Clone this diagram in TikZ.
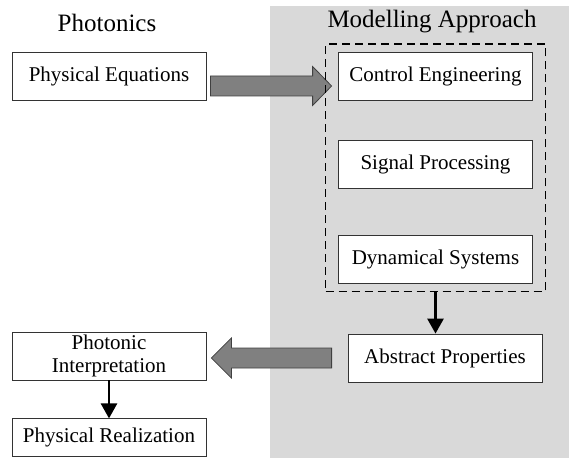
\documentclass[tikz,border=0pt]{standalone}
\usepackage{fontspec}
\setmainfont{Liberation Serif}
\usetikzlibrary{positioning,fit,calc,arrows.meta}

\begin{document}
\begin{tikzpicture}[x=1pt, y=1pt, node distance=40pt,
	box/.style = {draw=black!80, line width=0.8pt, fill=white, minimum width=194pt, minimum height=48pt, inner sep=0pt, font=\fontsize{21}{23}\selectfont, align=center},
	title/.style = {font=\fontsize{25}{28}\selectfont, anchor=base, inner sep=0pt},
	fatarr/.style = {draw=black!75, line width=0.8pt, fill=black!50},
	blkarr/.style = {-{Triangle[width=16pt,length=15pt]}, line width=2.7pt}]
			\useasboundingbox (0,0) rectangle (569,458);
			\fill[black!15] (270,0) rectangle (569,452);
			\node[title] (ph) at (107,426) {Photonics};
			\node[title] (ma) at (432,430) {Modelling Approach};
			\node[box] (pe) at (109,382) {Physical Equations};
			\node[box] (ce) at (435.5,381.5) {Control Engineering};
			\node[box] (sp) [below=39pt of ce] {Signal Processing};
			\node[box] (ds) [below=46pt of sp] {Dynamical Systems};
			\node[box] (ap) at (445,100) {Abstract Properties};
			\node[box] (pi) at (109,102) {Photonic\\Interpretation};
			\node[box, minimum height=38pt] (pr) [below=38pt of pi] {Physical Realization};
			\draw[fatarr] let \p1=($(pe.east)+(4pt,-10pt)$), \p2=($(ce.west)+(-6.5pt,0)$) in
				(\x1,\y1+10pt) -- (\x2-19pt,\y1+10pt) -- (\x2-19pt,\y1+19.5pt) -- (\x2,\y1)
				-- (\x2-19pt,\y1-19.5pt) -- (\x2-19pt,\y1-10pt) -- (\x1,\y1-10pt) -- cycle;
			\draw[fatarr] let \p1=($(ap.west)+(-16pt,0)$), \p2=($(pi.east)+(5pt,0)$) in
				(\x1,\y1+10pt) -- (\x2+20pt,\y1+10pt) -- (\x2+20pt,\y1+20pt) -- (\x2,\y1)
				-- (\x2+20pt,\y1-20pt) -- (\x2+20pt,\y1-10pt) -- (\x1,\y1-10pt) -- cycle;
			\node[draw, dash pattern=on 8pt off 5pt, line width=1.4pt, inner xsep=12.5pt, inner ysep=8pt, fit=(ce)(sp)(ds)] (grp) {};
			\path
				(grp.south) edge[blkarr] (grp.south |- ap.north)
				(pi.south) edge[blkarr] (pr.north);
		\end{tikzpicture}
\end{document}
